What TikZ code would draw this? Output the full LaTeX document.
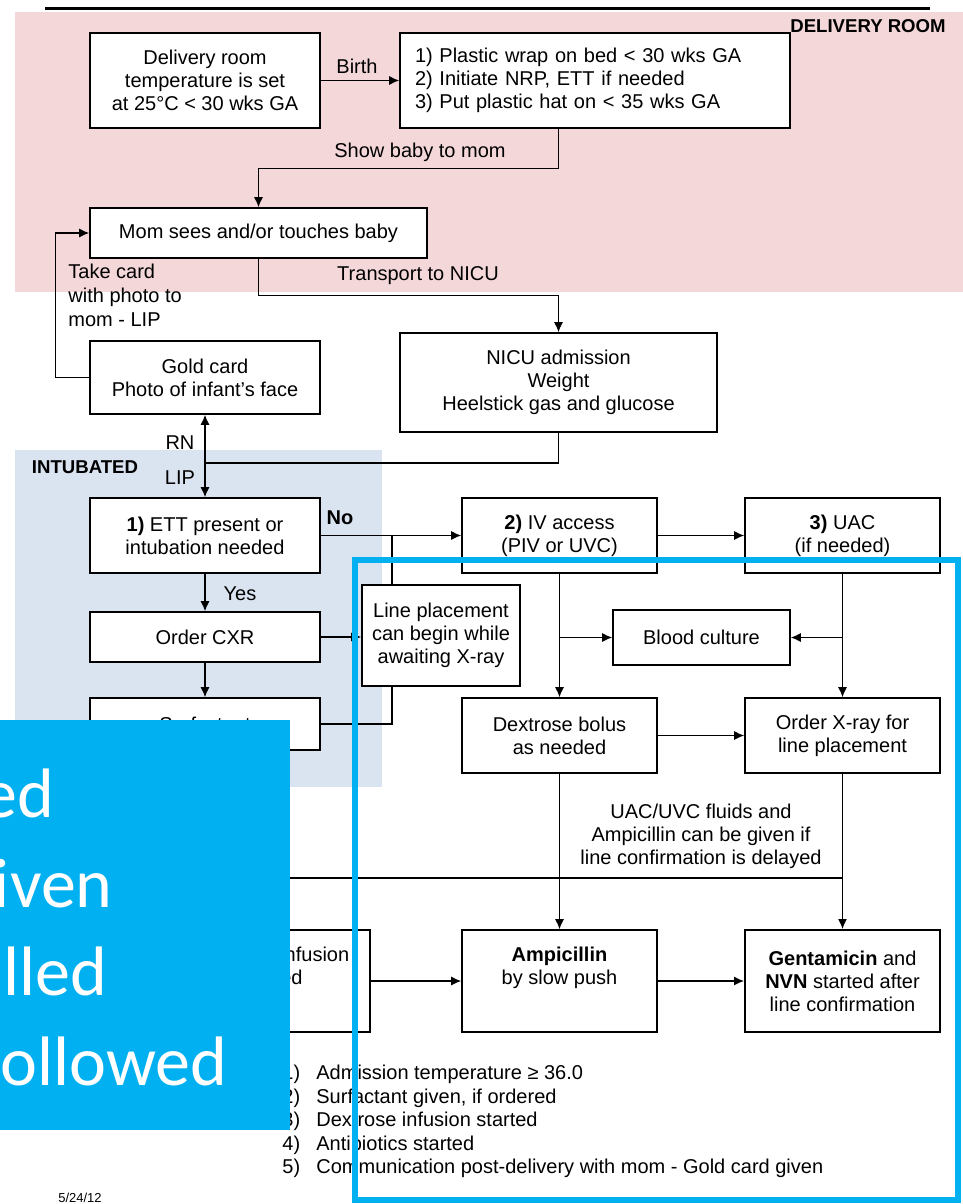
\documentclass[tikz,border=0pt]{standalone}
\usepackage{fontspec}
\setmainfont{Liberation Sans}
\newfontfamily\slidefont{Carlito}
\usetikzlibrary{arrows.meta}

\definecolor{roompink}{RGB}{243,215,217}
\definecolor{intubblue}{RGB}{218,227,240}
\definecolor{slideblue}{RGB}{0,176,240}

\tikzset{
  box/.style={draw, fill=white, line width=0.8pt, inner sep=0pt, align=center},
  lbl/.style={inner sep=0pt, align=center},
  arr/.style={-{Latex[length=5pt,width=4.5pt]}, line width=0.6pt},
  dbl/.style={{Latex[length=5pt,width=4.5pt]}-{Latex[length=5pt,width=4.5pt]}, line width=0.6pt},
  conn/.style={line width=0.6pt},
  slidetxt/.style={anchor=base east, inner sep=0pt, text=white, font=\slidefont\fontsize{35}{42}\selectfont}
}

\begin{document}
\begin{tikzpicture}[x=0.5pt, y=-0.5pt, every node/.style={font=\fontsize{10}{11.5}\selectfont}]
\useasboundingbox (0,0) rectangle (963,1204);

% Backgrounds
\fill[roompink] (15,12) rectangle (963,292);
\fill[intubblue] (15,450) rectangle (382,787);
\draw[line width=1.5pt] (45,9) -- (930,9);
\node (room) [lbl, font=\bfseries\fontsize{9.3}{11}\selectfont] at (868,26) {DELIVERY ROOM};
\node (intub) [lbl, font=\bfseries\fontsize{9.3}{11}\selectfont] at (85,467) {INTUBATED};

% Delivery room
\node (temp) [box, minimum width=115pt, minimum height=47.5pt] at (205,80.5) {Delivery room\\temperature is set\\at 25°C < 30 wks GA};
\node (prep) [box, minimum width=195pt, minimum height=47.5pt, text width=180pt, align=left] at (595,80.5) {1) Plastic wrap on bed < 30 wks GA\\2) Initiate NRP, ETT if needed\\3) Put plastic hat on < 35 wks GA};
\node (mom) [box, minimum width=168.5pt, minimum height=25pt] at (258.5,233) {Mom sees and/or touches baby};
\node (nicu) [box, minimum width=158.5pt, minimum height=49.5pt] at (558.5,382.5) {NICU admission\\Weight\\Heelstick gas and glucose};
\node (gold) [box, minimum width=115pt, minimum height=36.5pt] at (205,377.5) {Gold card\\Photo of infant's face};

% Intubated column
\node (ett) [box, minimum width=115pt, minimum height=37.5pt] at (205,535.5) {\textbf{1)} ETT present or\\intubation needed};
\node (cxr) [box, minimum width=115pt, minimum height=25pt] at (205,637) {Order CXR};
\node (surf) [box, minimum width=115pt, minimum height=26pt] at (205,724) {Surfactant};
\node (linepl) [box, minimum width=79pt, minimum height=50.5pt] at (441,635.5) {Line placement\\can begin while\\awaiting X-ray};

% NICU steps
\node (iv) [box, minimum width=97.5pt, minimum height=37.5pt] at (559.5,535.5) {\textbf{2)} IV access\\(PIV or UVC)};
\node (uac) [box, minimum width=97.5pt, minimum height=37.5pt] at (842.5,535.5) {\textbf{3)} UAC\\(if needed)};
\node (blood) [box, minimum width=88.5pt, minimum height=27.5pt] at (701.5,637.5) {Blood culture};
\node (dex) [box, minimum width=97.5pt, minimum height=37.5pt] at (559.5,735.5) {Dextrose bolus\\as needed};
\node (xray) [box, minimum width=97.5pt, minimum height=37.5pt] at (842.5,735.5) {Order X-ray for\\line placement};
\node (dexinf) [box, minimum width=98pt, minimum height=51pt] at (272,981) {Dextrose infusion\\started\\\strut};
\node (amp) [box, minimum width=97.5pt, minimum height=51pt] at (559.5,981) {\textbf{Ampicillin}\\by slow push\\\strut};
\node (gent) [box, minimum width=97.5pt, minimum height=51pt, line width=1pt] at (842.5,981) {\textbf{Gentamicin} and\\\textbf{NVN} started after\\line confirmation};

% Labels
\node (birth) [lbl] at (357,66) {Birth};
\node (show) [lbl] at (420,152) {Show baby to mom};
\node (transp) [lbl] at (418,276) {Transport to NICU};
\node (takecard) [lbl, anchor=north west, align=left, font=\fontsize{10}{12}\selectfont] at (68,264) {Take card\\with photo to\\mom - LIP};
\node (rn) [lbl] at (180,443) {RN};
\node (lip) [lbl] at (180,478) {LIP};
\node (no) [lbl, font=\bfseries\fontsize{10}{11.5}\selectfont] at (340,518) {No};
\node (yes) [lbl] at (240,594) {Yes};
\node (fluids) [lbl] at (701,836) {UAC/UVC fluids and\\Ampicillin can be given if\\line confirmation is delayed};

% Connectors
\coordinate (jrn) at (205,463);
\coordinate (jno) at (392,535.5);
\coordinate (jlow) at (842.5,878);
\draw[arr] (temp) -- (prep);
\draw[arr] (prep.south -| nicu) -- ++(0,40) -| (mom);
\draw[arr] (mom.south) -- ++(0,37) -| (nicu);
\draw[arr] (gold.west) -- ++(-34,0) |- (mom.west);
\draw[dbl] (gold) -- (ett);
\draw[conn] (nicu.south) |- (jrn);
\draw[arr] (ett) -- (iv);
\draw[conn] (jno) -- (jno |- linepl.north);
\draw[arr] (ett) -- (cxr);
\draw[arr] (cxr) -- (surf);
\draw[arr] (cxr.east) -- (cxr.east -| linepl.west);
\draw[conn] (surf.east) -| (jno |- linepl.south);
\draw[arr] (iv) -- (uac);
\draw[arr] (iv) -- (dex);
\draw[arr] (iv.south |- blood) -- (blood);
\draw[arr] (uac) -- (xray);
\draw[arr] (uac.south |- blood) -- (blood);
\draw[arr] (dex) -- (xray);
\draw[arr] (dex) -- (amp);
\draw[arr] (xray) -- (gent);
\draw[conn] (surf.south) |- (jlow);
\draw[arr] (dexinf) -- (amp);
\draw[arr] (amp) -- (gent);

% Notes
\node (notes) [lbl, anchor=north west, align=left, font=\fontsize{10}{11.75}\selectfont] at (282,1065) {\makebox[17pt][l]{1)}Admission temperature ≥ 36.0\\\makebox[17pt][l]{2)}Surfactant given, if ordered\\\makebox[17pt][l]{3)}Dextrose infusion started\\\makebox[17pt][l]{4)}Antibiotics started\\\makebox[17pt][l]{5)}Communication post-delivery with mom - Gold card given};
\node (date) [lbl, font=\fontsize{6.5}{7}\selectfont] at (80,1198) {5/24/12};

% Slide overlay
\fill[slideblue] (0,720) rectangle (290,1130);
\begin{scope}
\clip (0,720) rectangle (290,1130);
\node (w1) [slidetxt] at (55,817) {ed};
\node (w2) [slidetxt] at (113,907) {iven};
\node (w3) [slidetxt] at (108,995) {lled};
\node (w4) [slidetxt] at (228,1085) {ollowed};
\end{scope}
\draw[slideblue, line width=3pt] (355,560) rectangle (958,1200);
\end{tikzpicture}
\end{document}
